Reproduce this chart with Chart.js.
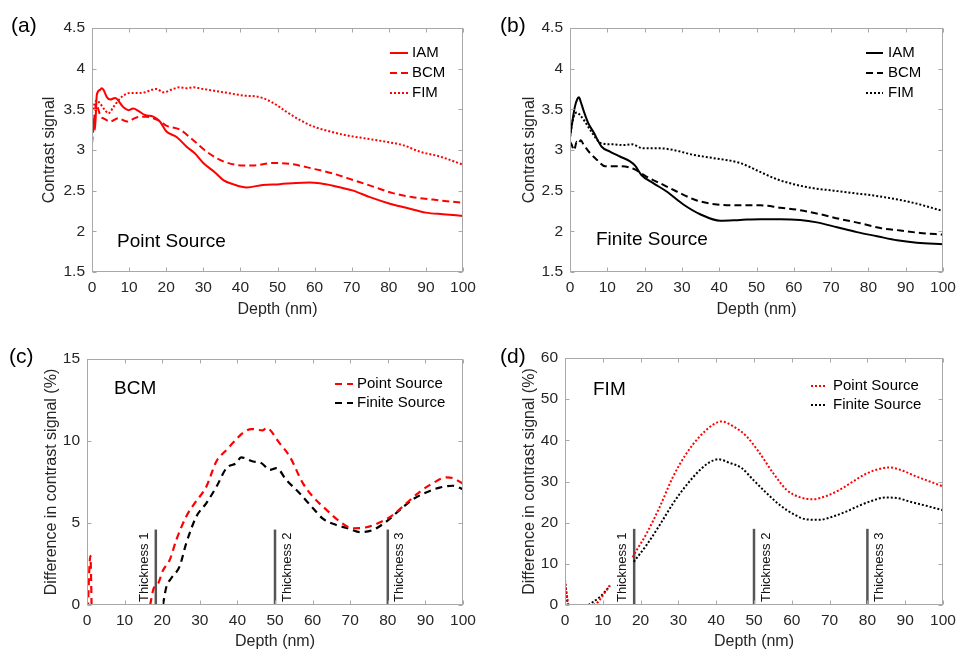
<!DOCTYPE html>
<html lang="en">
<head>
<meta charset="UTF-8">
<title>Contrast signal vs depth</title>
<script src="https://cdn.jsdelivr.net/npm/chart.js@4.4.1/dist/chart.umd.min.js"></script>
<style>
  body { margin: 0; background: #fff; }
  #wrap { position: relative; width: 957px; height: 653px; background: #fff; font-family: "Liberation Sans", Arial, sans-serif; }
  canvas { position: absolute; }
  .tag { position: absolute; font-size: 21px; line-height: 22px; color: #000; }
</style>
</head>
<body>
<div id="wrap">
  <canvas id="chartA" width="480" height="326" style="left:0;top:0"></canvas>
  <canvas id="chartB" width="477" height="326" style="left:480px;top:0"></canvas>
  <canvas id="chartC" width="480" height="327" style="left:0;top:326px"></canvas>
  <canvas id="chartD" width="477" height="327" style="left:480px;top:326px"></canvas>
  <div class="tag" style="left:11px;top:14px">(a)</div>
  <div class="tag" style="left:500px;top:14px">(b)</div>
  <div class="tag" style="left:9px;top:345px">(c)</div>
  <div class="tag" style="left:500px;top:345px">(d)</div>
</div>

<script>
// ---- (a) point source ----
const aIamX = [0, 0.5, 0.8, 1.3, 2.2, 2.6, 3.1, 4.0, 4.9, 6.2, 8.4, 9.8, 11.1, 12.5, 14.3, 16.5, 18.3, 20, 22.8, 25.5, 27.7, 30, 33, 35.4, 38, 41.7, 46, 50.6, 55, 58.7, 61.4, 65, 70.4, 74.9, 80.3, 84.7, 90, 94.6, 100];
const aIamY = [3.28, 3.37, 3.25, 3.68, 3.74, 3.76, 3.74, 3.65, 3.62, 3.64, 3.53, 3.49, 3.51, 3.48, 3.43, 3.41, 3.35, 3.23, 3.16, 3.04, 2.96, 2.84, 2.73, 2.63, 2.58, 2.54, 2.57, 2.58, 2.595, 2.6, 2.59, 2.56, 2.5, 2.42, 2.34, 2.29, 2.23, 2.21, 2.19];
const aBcmX = [0, 0.4, 0.8, 1.3, 1.7, 2.4, 3.1, 4.9, 7.1, 9.4, 12.0, 14.5, 16.5, 18.5, 20, 23.7, 27.3, 30.9, 35.4, 40.8, 43.4, 48.8, 53.3, 59.6, 65, 70.4, 75.8, 81.1, 86.5, 91.9, 100];
const aBcmY = [3.08, 3.28, 3.49, 3.57, 3.5, 3.41, 3.39, 3.35, 3.39, 3.35, 3.4, 3.41, 3.39, 3.35, 3.3, 3.25, 3.12, 2.98, 2.86, 2.81, 2.81, 2.84, 2.83, 2.77, 2.71, 2.63, 2.55, 2.47, 2.42, 2.39, 2.35];
const aFimX = [0, 0.4, 1.3, 2.2, 3.5, 4.4, 5.8, 7.1, 8.5, 10.2, 12.5, 14.3, 16.1, 17.4, 19.2, 21.9, 23.5, 25.5, 27.3, 30, 35.4, 40.8, 45.2, 48.8, 52.4, 56, 59.6, 64, 68.6, 74, 79.4, 83.8, 88.3, 93.7, 100];
const aFimY = [3.45, 3.53, 3.61, 3.57, 3.49, 3.45, 3.53, 3.61, 3.67, 3.7, 3.7, 3.71, 3.74, 3.75, 3.71, 3.75, 3.77, 3.76, 3.77, 3.75, 3.71, 3.67, 3.65, 3.58, 3.47, 3.37, 3.29, 3.23, 3.18, 3.14, 3.1, 3.06, 2.98, 2.92, 2.82];

// ---- (b) finite source ----
const bIamX = [0, 0.7, 1.3, 2.0, 2.4, 2.9, 3.6, 4.9, 6.3, 8.5, 10.7, 13.4, 16.1, 17.4, 19.2, 22.4, 25.9, 30.4, 34.9, 40.3, 45.6, 51, 56.4, 61.7, 66.2, 71.6, 76.9, 82.3, 87.7, 93, 100];
const bIamY = [3.16, 3.37, 3.53, 3.63, 3.65, 3.59, 3.49, 3.33, 3.22, 3.04, 2.98, 2.92, 2.86, 2.81, 2.69, 2.59, 2.49, 2.33, 2.21, 2.13, 2.14, 2.15, 2.15, 2.14, 2.11, 2.05, 1.99, 1.94, 1.89, 1.86, 1.84];
const bBcmX = [0, 0.4, 1.1, 1.8, 2.2, 2.9, 3.6, 5.4, 7.2, 9.4, 13.4, 17, 20.6, 24.2, 28.6, 34, 39.4, 45.6, 51, 56.4, 61.7, 67.1, 72.5, 77.8, 83.2, 88.6, 93.9, 100];
const bBcmY = [3.1, 3.07, 3.0, 3.1, 3.08, 3.12, 3.07, 2.96, 2.88, 2.8, 2.8, 2.77, 2.67, 2.59, 2.49, 2.38, 2.33, 2.32, 2.32, 2.29, 2.26, 2.21, 2.15, 2.1, 2.04, 2.01, 1.98, 1.96];
const bFimX = [0, 0.4, 1.0, 1.8, 2.7, 4.0, 5.8, 8.5, 11.6, 14.3, 16.5, 19.7, 24.2, 27.7, 33.1, 38.5, 45.6, 51, 55.5, 59.9, 65.3, 70.7, 76, 81.4, 86.8, 92.1, 100];
const bFimY = [3.16, 3.28, 3.41, 3.46, 3.43, 3.35, 3.22, 3.08, 3.07, 3.06, 3.07, 3.02, 3.02, 3.0, 2.94, 2.9, 2.84, 2.73, 2.64, 2.58, 2.53, 2.5, 2.47, 2.44, 2.4, 2.35, 2.25];

// ---- (c) BCM difference (%) ----  null = gap
const cPointX = [0.1, 0.9, 1.3, 8, 16.8, 17.7, 18.9, 20.2, 22, 23.8, 26.4, 28.6, 31.7, 34.4, 37.1, 39.7, 41.5, 43.7, 46.8, 47.7, 51.2, 53.9, 57.4, 60.1, 63.7, 67.2, 70.7, 74.3, 77.8, 81.4, 84.9, 88.5, 92, 95.6, 97.3, 100];
const cPointY = [-1, 3.0, -1, null, 0, 1.0, 1.3, 2.1, 2.75, 4, 5.4, 6.2, 7.2, 8.75, 9.46, 10.1, 10.5, 10.73, 10.65, 10.8, 9.87, 9.06, 7.43, 6.6, 5.8, 5.1, 4.68, 4.74, 5.03, 5.5, 6.2, 6.9, 7.43, 7.78, 7.74, 7.39];
const cFiniteX = [20.2, 21.1, 22.4, 24.6, 26.4, 29.1, 31.7, 34.4, 37.1, 39.7, 41, 44.2, 46.4, 48.6, 50.4, 53, 56.6, 60.1, 62.8, 66.3, 69.9, 72.5, 76.1, 79.6, 83.2, 86.7, 90.2, 93.8, 97.3, 100];
const cFiniteY = [0, 1.1, 1.63, 2.34, 3.77, 5.4, 6.2, 7.2, 8.35, 8.65, 9.0, 8.75, 8.65, 8.24, 8.35, 7.63, 6.8, 5.9, 5.25, 4.88, 4.64, 4.44, 4.58, 5.09, 5.8, 6.45, 6.86, 7.16, 7.27, 7.06];

// ---- (d) FIM difference (%) ----
const dPointX = [0, 0.9, 4, 7.5, 8.8, 10.1, 12, 15, 17.9, 18.5, 21.6, 25.1, 28.6, 32.2, 35.7, 39.2, 41.4, 44.5, 48, 51.5, 55.1, 58.6, 62.1, 65.6, 69.2, 72.7, 76.2, 79.7, 83.3, 85.9, 89.4, 93, 96.5, 100];
const dPointY = [5.3, 0, null, 0, 0.8, 2.4, 5.0, null, 11.6, 12.6, 17.4, 23.9, 31.2, 36.9, 41, 43.8, 44.6, 43.4, 41, 36.9, 32, 28, 26.2, 25.7, 26.5, 28, 30, 31.9, 33.1, 33.4, 32.6, 31.2, 30, 28.8];
const dFiniteX = [0, 0.7, 4, 6.2, 7.5, 9.3, 11.9, 15, 18.2, 21.6, 25.1, 28.6, 32.2, 35.7, 38.3, 40.5, 43.6, 46.7, 49.8, 53.3, 56.8, 60.4, 63.9, 67.4, 70.9, 74.4, 78, 81.5, 84.6, 87.7, 91.2, 95.6, 100];
const dFiniteY = [6.1, 0, null, 0, 0.8, 2.0, 4.6, null, 10.5, 14.6, 19.5, 24.7, 29.2, 32.8, 34.7, 35.4, 34.5, 33.3, 30.4, 27.2, 24.3, 22.1, 20.8, 20.7, 21.5, 22.7, 24.2, 25.4, 26.1, 26, 25.1, 24.1, 23];

// thickness markers
const thicknessX = [18.3, 50, 80];
const thicknessLabels = ['Thickness 1', 'Thickness 2', 'Thickness 3'];
const thicknessTopC = 4.6;
const thicknessTopD = 18.5;

Chart.defaults.font.family = '"Liberation Sans", Arial, sans-serif';
Chart.defaults.color = '#262626';

function pts(xs, ys) {
  return xs.map((x, i) => ({ x: x, y: ys[i] }));
}

function line(label, xs, ys, color, dash, width) {
  return {
    label: label, data: pts(xs, ys), borderColor: color, borderDash: dash, borderWidth: width,
    pointRadius: 0, fill: false, cubicInterpolationMode: 'monotone', spanGaps: false, clip: 0
  };
}

function thickSets(top) {
  return thicknessX.map(x => ({
    label: 'thick', isThick: true, data: [{ x: x, y: 0 }, { x: x, y: top }],
    borderColor: '#555', borderWidth: 2.5, pointRadius: 0, clip: 0
  }));
}

// draws the matlab style box, inward ticks, legend, note and thickness labels
const deco = {
  id: 'deco',
  afterDatasetsDraw(chart, args, o) {
    const { ctx, chartArea: a } = chart;
    const xs = chart.scales.x, ys = chart.scales.y;
    ctx.save();

    if (o.thick) {
      ctx.font = '13px "Liberation Sans", Arial, sans-serif';
      ctx.fillStyle = '#111';
      ctx.textBaseline = 'middle';
      ctx.textAlign = 'left';
      thicknessX.forEach((v, i) => {
        const px = xs.getPixelForValue(v) + o.thick[i];
        ctx.save();
        ctx.translate(px, a.bottom - 3);
        ctx.rotate(-Math.PI / 2);
        ctx.fillText(thicknessLabels[i], 0, 0);
        ctx.restore();
      });
    }

    const L = Math.round(a.left) + 0.5, R = Math.round(a.right) - 0.5;
    const T = Math.round(a.top) + 0.5, B = Math.round(a.bottom) - 0.5;
    ctx.strokeStyle = '#a8a8a8';
    ctx.lineWidth = 1;
    ctx.setLineDash([]);
    ctx.strokeRect(L, T, R - L, B - T);
    ctx.beginPath();
    xs.ticks.forEach(t => {
      const p = Math.round(xs.getPixelForValue(t.value)) + 0.5;
      ctx.moveTo(p, B); ctx.lineTo(p, B - 4);
      ctx.moveTo(p, T); ctx.lineTo(p, T + 4);
    });
    ys.ticks.forEach(t => {
      const p = Math.round(ys.getPixelForValue(t.value)) + 0.5;
      ctx.moveTo(L, p); ctx.lineTo(L + 4, p);
      ctx.moveTo(R, p); ctx.lineTo(R - 4, p);
    });
    ctx.stroke();

    // legend
    ctx.font = '15px "Liberation Sans", Arial, sans-serif';
    ctx.textAlign = 'left';
    ctx.textBaseline = 'middle';
    let row = 0;
    chart.data.datasets.forEach(ds => {
      if (ds.isThick) return;
      const yy = a.top + o.ly + row * o.dy;
      ctx.beginPath();
      ctx.strokeStyle = ds.borderColor;
      ctx.lineWidth = ds.borderWidth;
      ctx.setLineDash(ds.borderDash || []);
      ctx.moveTo(a.right + o.lx0, yy);
      ctx.lineTo(a.right + o.lx1, yy);
      ctx.stroke();
      ctx.fillStyle = '#000';
      ctx.fillText(ds.label, a.right + o.tx, yy);
      row++;
    });

    ctx.font = '19px "Liberation Sans", Arial, sans-serif';
    ctx.fillStyle = '#000';
    ctx.fillText(o.note, a.left + o.nx, a.top + o.ny);
    ctx.restore();
  }
};

function makeChart(id, datasets, c) {
  new Chart(document.getElementById(id), {
    type: 'line',
    data: { datasets: datasets },
    plugins: [deco],
    options: {
      responsive: false,
      animation: false,
      events: [],
      layout: { padding: { left: 0, right: c.padR, top: c.padT, bottom: 0 } },
      scales: {
        x: {
          type: 'linear', min: 0, max: 100,
          grid: { display: false, drawTicks: false },
          border: { display: false },
          ticks: { stepSize: 10, autoSkip: false, maxRotation: 0, padding: 6.7, font: { size: 15.5 }, color: '#262626' },
          title: { display: true, text: 'Depth (nm)', font: { size: 16 }, color: '#262626', padding: { top: 0, bottom: c.xTitlePad } },
          afterFit: s => { s.height = c.xH; s.paddingLeft = 0; s.paddingRight = 0; }
        },
        y: {
          type: 'linear', min: c.yMin, max: c.yMax,
          grid: { display: false, drawTicks: false },
          border: { display: false },
          ticks: { stepSize: c.yStep, autoSkip: false, padding: 7, font: { size: 15.5 }, color: '#262626', callback: v => String(v) },
          title: { display: true, text: c.yTitle, font: { size: 16 }, color: '#262626', padding: { top: c.yTitlePad, bottom: 0 } },
          afterFit: s => { s.width = c.yW; s.paddingTop = 0; s.paddingBottom = 0; }
        }
      },
      plugins: {
        legend: { display: false },
        tooltip: { enabled: false },
        deco: c.deco
      }
    }
  });
}

const RED = '#ff0000', BLK = '#000000';

makeChart('chartA', [
  line('IAM', aIamX, aIamY, RED, [], 2),
  line('BCM', aBcmX, aBcmY, RED, [7, 4], 2),
  line('FIM', aFimX, aFimY, RED, [2, 2], 2)
], { padR: 17, padT: 28, xH: 54, yW: 92, yMin: 1.5, yMax: 4.5, yStep: 0.5, yTitle: 'Contrast signal', yTitlePad: 40.4, xTitlePad: 6.4,
     deco: { lx0: -73, lx1: -55, tx: -51, ly: 25, dy: 20, note: 'Point Source', nx: 25, ny: 214 } });

makeChart('chartB', [
  line('IAM', bIamX, bIamY, BLK, [], 2),
  line('BCM', bBcmX, bBcmY, BLK, [7, 4], 2),
  line('FIM', bFimX, bFimY, BLK, [2, 2], 2)
], { padR: 14, padT: 28, xH: 54, yW: 90, yMin: 1.5, yMax: 4.5, yStep: 0.5, yTitle: 'Contrast signal', yTitlePad: 40.4, xTitlePad: 6.4,
     deco: { lx0: -77, lx1: -60, tx: -55, ly: 25, dy: 20, note: 'Finite Source', nx: 26, ny: 212 } });

makeChart('chartC', [
  line('Point Source', cPointX, cPointY, RED, [7, 5], 2.2),
  line('Finite Source', cFiniteX, cFiniteY, BLK, [7, 5], 2.2)
].concat(thickSets(thicknessTopC)), { padR: 17, padT: 33, xH: 48, yW: 87, yMin: 0, yMax: 15, yStep: 5, yTitle: 'Difference in contrast signal (%)', yTitlePad: 42.4, xTitlePad: 1.4,
     deco: { lx0: -128, lx1: -110, tx: -106, ly: 25, dy: 19, note: 'BCM', nx: 27, ny: 30, thick: [-11.5, 12, 12] } });

makeChart('chartD', [
  line('Point Source', dPointX, dPointY, RED, [2, 2], 2),
  line('Finite Source', dFiniteX, dFiniteY, BLK, [2, 2], 2)
].concat(thickSets(thicknessTopD)), { padR: 14, padT: 32, xH: 48, yW: 85, yMin: 0, yMax: 60, yStep: 10, yTitle: 'Difference in contrast signal (%)', yTitlePad: 40.4, xTitlePad: 1.4,
     deco: { lx0: -132, lx1: -117, tx: -110, ly: 28, dy: 19, note: 'FIM', nx: 28, ny: 32, thick: [-11.5, 12, 12] } });
</script>
</body>
</html>
